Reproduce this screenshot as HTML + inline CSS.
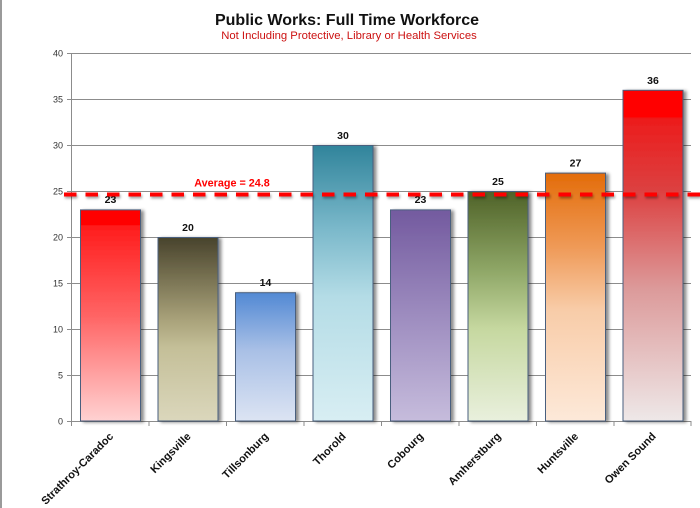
<!DOCTYPE html>
<html><head><meta charset="utf-8">
<style>
html,body{margin:0;padding:0;background:#fff;}
svg{display:block;}
text{font-family:"Liberation Sans",Arial,sans-serif;}
</style></head>
<body>
<svg width="700" height="508" viewBox="0 0 700 508" xmlns="http://www.w3.org/2000/svg">
<defs>
<filter id="sh" x="-20%" y="-10%" width="150%" height="130%">
<feDropShadow dx="3" dy="1" stdDeviation="1.6" flood-color="#000" flood-opacity="0.45"/>
</filter>
<filter id="blur" filterUnits="userSpaceOnUse" x="0" y="180" width="700" height="30">
<feGaussianBlur stdDeviation="1.2"/>
</filter>
<linearGradient id="g1" x1="0" y1="0" x2="0" y2="1">
<stop offset="0" stop-color="#ff0000"/><stop offset="0.07" stop-color="#ff0000"/><stop offset="0.075" stop-color="#ff1c1c"/><stop offset="0.5" stop-color="#ff6464"/><stop offset="1" stop-color="#ffd2d2"/>
</linearGradient>
<linearGradient id="g2" x1="0" y1="0" x2="0" y2="1">
<stop offset="0" stop-color="#48432c"/><stop offset="0.45" stop-color="#a9a27a"/><stop offset="0.6" stop-color="#c4bf98"/><stop offset="1" stop-color="#dbd7bc"/>
</linearGradient>
<linearGradient id="g3" x1="0" y1="0" x2="0" y2="1">
<stop offset="0" stop-color="#5289d4"/><stop offset="0.45" stop-color="#a9c0e6"/><stop offset="1" stop-color="#dce4f3"/>
</linearGradient>
<linearGradient id="g4" x1="0" y1="0" x2="0" y2="1">
<stop offset="0" stop-color="#31849b"/><stop offset="0.3" stop-color="#7ab8ca"/><stop offset="0.55" stop-color="#b4dce6"/><stop offset="1" stop-color="#d8eef3"/>
</linearGradient>
<linearGradient id="g5" x1="0" y1="0" x2="0" y2="1">
<stop offset="0" stop-color="#735a9f"/><stop offset="0.5" stop-color="#9d8cbf"/><stop offset="1" stop-color="#c6bcdc"/>
</linearGradient>
<linearGradient id="g6" x1="0" y1="0" x2="0" y2="1">
<stop offset="0" stop-color="#4f6228"/><stop offset="0.35" stop-color="#90a868"/><stop offset="0.6" stop-color="#c6d8a0"/><stop offset="1" stop-color="#e9f0dd"/>
</linearGradient>
<linearGradient id="g7" x1="0" y1="0" x2="0" y2="1">
<stop offset="0" stop-color="#e36c09"/><stop offset="0.3" stop-color="#ef9a58"/><stop offset="0.55" stop-color="#f8cca8"/><stop offset="1" stop-color="#fde9d9"/>
</linearGradient>
<linearGradient id="g8" x1="0" y1="0" x2="0" y2="1">
<stop offset="0" stop-color="#ff0000"/><stop offset="0.08" stop-color="#ff0000"/><stop offset="0.085" stop-color="#ec1c1c"/><stop offset="0.3" stop-color="#dc4040"/><stop offset="0.6" stop-color="#dc9a9a"/><stop offset="1" stop-color="#eee8e8"/>
</linearGradient>
</defs>

<rect x="0" y="0" width="700" height="508" fill="#fff"/>
<rect x="0" y="0" width="2" height="508" fill="#9a9a9a"/>

<!-- Titles -->
<text x="347" y="25" text-anchor="middle" font-size="16" font-weight="bold" fill="#111">Public Works: Full Time Workforce</text>
<text x="349" y="39" text-anchor="middle" font-size="11.3" fill="#cc1111">Not Including Protective, Library or Health Services</text>

<!-- Gridlines -->
<g stroke="#8c8c8c" stroke-width="1">
<line x1="67" y1="53.5" x2="691" y2="53.5"/>
<line x1="67" y1="99.5" x2="691" y2="99.5"/>
<line x1="67" y1="145.5" x2="691" y2="145.5"/>
<line x1="67" y1="191.5" x2="691" y2="191.5"/>
<line x1="67" y1="237.5" x2="691" y2="237.5"/>
<line x1="67" y1="283.5" x2="691" y2="283.5"/>
<line x1="67" y1="329.5" x2="691" y2="329.5"/>
<line x1="67" y1="375.5" x2="691" y2="375.5"/>
<line x1="67" y1="421.5" x2="691" y2="421.5"/>
<line x1="71.5" y1="53" x2="71.5" y2="422"/>
</g>
<!-- x ticks -->
<g stroke="#8c8c8c" stroke-width="1">
<line x1="71.5" y1="421" x2="71.5" y2="426"/>
<line x1="149" y1="421" x2="149" y2="426"/>
<line x1="226.5" y1="421" x2="226.5" y2="426"/>
<line x1="304" y1="421" x2="304" y2="426"/>
<line x1="381.5" y1="421" x2="381.5" y2="426"/>
<line x1="459" y1="421" x2="459" y2="426"/>
<line x1="536.5" y1="421" x2="536.5" y2="426"/>
<line x1="614" y1="421" x2="614" y2="426"/>
<line x1="691" y1="421" x2="691" y2="426"/>
</g>

<!-- y labels -->
<g font-size="9" fill="#333" text-anchor="end">
<text x="63" y="56.5">40</text>
<text x="63" y="102.5">35</text>
<text x="63" y="148.5">30</text>
<text x="63" y="194.5">25</text>
<text x="63" y="240.5">20</text>
<text x="63" y="286.5">15</text>
<text x="63" y="332.5">10</text>
<text x="63" y="378.5">5</text>
<text x="63" y="424.5">0</text>
</g>

<!-- Bars -->
<g stroke="#4a5f7e" stroke-width="1" filter="url(#sh)">
<rect x="80.5" y="209.9" width="60" height="211.1" fill="url(#g1)"/>
<rect x="158" y="237.5" width="60" height="183.5" fill="url(#g2)"/>
<rect x="235.5" y="292.7" width="60" height="128.3" fill="url(#g3)"/>
<rect x="313" y="145.5" width="60" height="275.5" fill="url(#g4)"/>
<rect x="390.5" y="209.9" width="60" height="211.1" fill="url(#g5)"/>
<rect x="468" y="191.5" width="60" height="229.5" fill="url(#g6)"/>
<rect x="545.5" y="173.1" width="60" height="247.9" fill="url(#g7)"/>
<rect x="623" y="90.3" width="60" height="330.7" fill="url(#g8)"/>
</g>

<!-- Data labels -->
<g font-size="10.5" font-weight="bold" fill="#111" text-anchor="middle">
<text x="110.5" y="203">23</text>
<text x="188" y="231">20</text>
<text x="265.5" y="286">14</text>
<text x="343" y="139">30</text>
<text x="420.5" y="203">23</text>
<text x="498" y="185">25</text>
<text x="575.5" y="166.5">27</text>
<text x="653" y="84">36</text>
</g>

<!-- Average line -->
<line x1="65" y1="196.5" x2="701" y2="196.5" stroke="#000" stroke-opacity="0.35" stroke-width="4" stroke-dasharray="12.5 9" filter="url(#blur)"/>
<line x1="64" y1="194.5" x2="700" y2="194.5" stroke="#ff0000" stroke-width="4" stroke-dasharray="12.5 9"/>
<text x="232" y="186.5" text-anchor="middle" font-size="10.8" font-weight="bold" fill="#ff0000">Average = 24.8</text>

<!-- Category labels -->
<g font-size="11" font-weight="bold" fill="#111" text-anchor="end">
<text transform="translate(114,437) rotate(-45)">Strathroy-Caradoc</text>
<text transform="translate(191.5,437) rotate(-45)">Kingsville</text>
<text transform="translate(269,437) rotate(-45)">Tillsonburg</text>
<text transform="translate(346.5,437) rotate(-45)">Thorold</text>
<text transform="translate(424,437) rotate(-45)">Cobourg</text>
<text transform="translate(501.5,437) rotate(-45)">Amherstburg</text>
<text transform="translate(579,437) rotate(-45)">Huntsville</text>
<text transform="translate(656.5,437) rotate(-45)">Owen Sound</text>
</g>
</svg>
</body></html>
